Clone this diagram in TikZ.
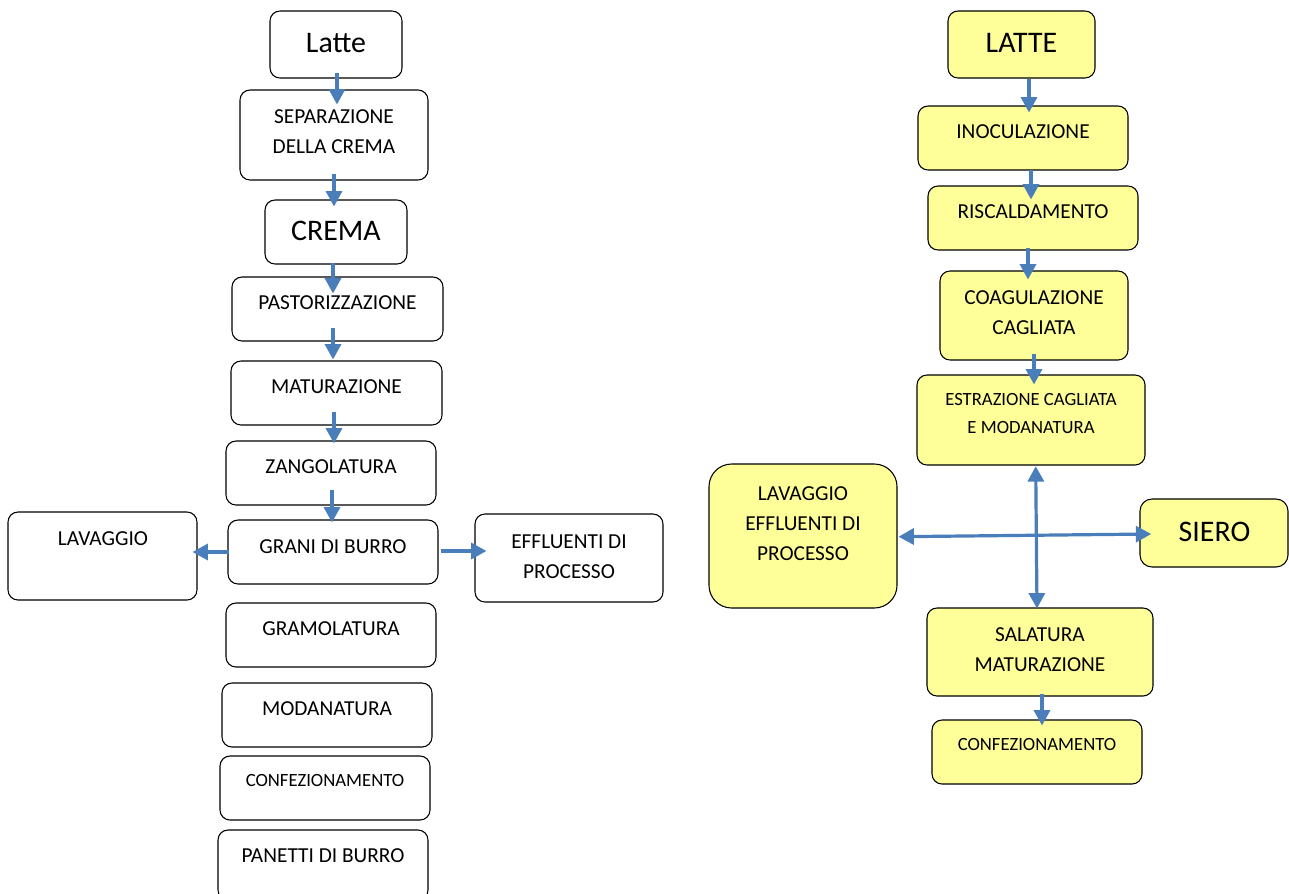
\documentclass[tikz,border=0pt]{standalone}
\usepackage{fontspec}
\setmainfont{Carlito}
\usetikzlibrary{arrows.meta,calc}

\newcommand{\pxu}{0.75pt}
\definecolor{flowblue}{RGB}{74,126,187}
\definecolor{cheese}{RGB}{255,255,153}

\tikzset{
  stepbox/.style={draw=black, line width=0.8pt, rounded corners=7.5pt, fill=white},
  cheesebox/.style={stepbox, fill=cheese},
  flow/.style={draw=flowblue, line width=2.4pt, -{Triangle[width=12pt,length=11.5pt]}},
  flowboth/.style={flow, {Triangle[width=12pt,length=11.5pt]}-{Triangle[width=12pt,length=11.5pt]}},
  txt/.style={font=\fontsize{16}{22.5}\selectfont, align=center, inner sep=0pt},
  bigtxt/.style={font=\fontsize{22.4}{26}\selectfont, inner sep=0pt},
  smalltxt/.style={font=\fontsize{14}{20.3}\selectfont, align=center, inner sep=0pt},
}

\begin{document}
\begin{tikzpicture}[x=\pxu, y=-\pxu]
  \useasboundingbox (0,0) rectangle (1289,893);
  \clip (0,0) rectangle (1289,893);

  % burro
  \node[stepbox, minimum width=132*\pxu, minimum height=67*\pxu] (latte) at (336,44.5) {};
  \node[stepbox, minimum width=188*\pxu, minimum height=90*\pxu] (sep) at (334,135) {};
  \node[stepbox, minimum width=142*\pxu, minimum height=64*\pxu] (crema) at (336,232) {};
  \node[stepbox, minimum width=211*\pxu, minimum height=64*\pxu] (past) at (337.5,309) {};
  \node[stepbox, minimum width=211*\pxu, minimum height=64*\pxu] (mat) at (336.5,393) {};
  \node[stepbox, minimum width=210*\pxu, minimum height=64*\pxu] (zang) at (331,473) {};
  \node[stepbox, minimum width=210*\pxu, minimum height=64*\pxu] (grani) at (333,552) {};
  \node[stepbox, minimum width=189*\pxu, minimum height=88*\pxu] (lav) at (102.5,556) {};
  \node[stepbox, minimum width=188*\pxu, minimum height=88*\pxu] (eff) at (569,558) {};
  \node[stepbox, minimum width=210*\pxu, minimum height=64*\pxu] (gram) at (331,635) {};
  \node[stepbox, minimum width=210*\pxu, minimum height=64*\pxu] (moda) at (327,715) {};
  \node[stepbox, minimum width=210*\pxu, minimum height=64*\pxu] (conf) at (325,788) {};
  \node[stepbox, minimum width=210*\pxu, minimum height=70*\pxu] (pan) at (323,865) {};

  \node[bigtxt] (latte-t) at (336,43) {Latte};
  \node[txt] (sep-t) at (334,132) {SEPARAZIONE\\DELLA CREMA};
  \node[bigtxt] (crema-t) at (336,231) {CREMA};
  \node[txt] (past-t) at (337.5,303) {PASTORIZZAZIONE};
  \node[txt] (mat-t) at (336.5,387) {MATURAZIONE};
  \node[txt] (zang-t) at (331,467) {ZANGOLATURA};
  \node[txt] (grani-t) at (333,547) {GRANI DI BURRO};
  \node[txt] (lav-t) at (103,539) {LAVAGGIO};
  \node[txt] (eff-t) at (569,557) {EFFLUENTI DI\\PROCESSO};
  \node[txt] (gram-t) at (331,629) {GRAMOLATURA};
  \node[txt] (moda-t) at (327,709) {MODANATURA};
  \node[smalltxt] (conf-t) at (325,780) {CONFEZIONAMENTO};
  \node[txt] (pan-t) at (323,856) {PANETTI DI BURRO};

  \draw[flow] ($(latte.south)+(1,-6)$) -- ($(sep.north)+(3,15)$);
  \draw[flow] ($(sep.south)+(0,-7)$) -- ($(crema.north)+(-2,7)$);
  \draw[flow] ($(crema.south)+(-3,-2)$) -- ($(past.north)+(-4.5,17)$);
  \draw[flow] ($(past.south)+(-4.5,-14)$) -- ($(mat.north)+(-3.5,-1)$);
  \draw[flow] ($(mat.south)+(-2.5,-14)$) -- ($(zang.north)+(3,3)$);
  \draw[flow] ($(zang.south)+(1,-16)$) -- ($(grani.north)+(-1,3)$);
  \draw[flow] ($(grani.west)+(2,0)$) -- ($(lav.east)+(-5,-4)$);
  \draw[flow] ($(grani.east)+(2,-1)$) -- ($(eff.west)+(12,-7)$);

  % formaggio
  \node[cheesebox, minimum width=147*\pxu, minimum height=67*\pxu] (latte2) at (1021.5,44.5) {};
  \node[cheesebox, minimum width=210*\pxu, minimum height=64*\pxu] (inoc) at (1023,138) {};
  \node[cheesebox, minimum width=210*\pxu, minimum height=64*\pxu] (risc) at (1033,218) {};
  \node[cheesebox, minimum width=188*\pxu, minimum height=89*\pxu] (coag) at (1034,315.5) {};
  \node[cheesebox, minimum width=228*\pxu, minimum height=90*\pxu] (estr) at (1031,420) {};
  \node[cheesebox, rounded corners=17pt, minimum width=188*\pxu, minimum height=144*\pxu] (lav2) at (803,536) {};
  \node[cheesebox, rounded corners=9pt, minimum width=148*\pxu, minimum height=68*\pxu] (siero) at (1214,533) {};
  \node[cheesebox, minimum width=226*\pxu, minimum height=88*\pxu] (sal) at (1040,652) {};
  \node[cheesebox, minimum width=210*\pxu, minimum height=64*\pxu] (conf2) at (1037,752) {};

  \node[bigtxt] (latte2-t) at (1021.5,43) {LATTE};
  \node[txt] (inoc-t) at (1023,132) {INOCULAZIONE};
  \node[txt] (risc-t) at (1033,212) {RISCALDAMENTO};
  \node[txt] (coag-t) at (1034,312.5) {COAGULAZIONE\\CAGLIATA};
  \node[smalltxt] (estr-t) at (1031,413.5) {ESTRAZIONE CAGLIATA\\E MODANATURA};
  \node[txt] (lav2-t) at (803,524) {LAVAGGIO\\EFFLUENTI DI\\PROCESSO};
  \node[bigtxt] (siero-t) at (1214.5,532) {SIERO};
  \node[txt] (sal-t) at (1040,650) {SALATURA\\MATURAZIONE};
  \node[smalltxt] (conf2-t) at (1037,744) {CONFEZIONAMENTO};

  \draw[flow] ($(latte2.south)+(7.5,0)$) -- ($(inoc.north)+(6,7)$);
  \draw[flow] ($(inoc.south)+(8,-1)$) -- ($(risc.north)+(-2,14)$);
  \draw[flow] ($(risc.south)+(-5,-3)$) -- ($(coag.north)+(-6,9)$);
  \draw[flow] ($(coag.south)+(0,-7)$) -- ($(estr.north)+(3,10)$);
  \draw[flowboth] ($(estr.south)+(4.7,0.7)$) -- ($(sal.north)+(-3,1)$);
  \draw[flowboth] ($(lav2.east)+(1,0.7)$) -- ($(siero.west)+(11.7,1)$);
  \draw[flow] ($(sal.south)+(2,-3)$) -- ($(conf2.north)+(5,6)$);
\end{tikzpicture}
\end{document}
